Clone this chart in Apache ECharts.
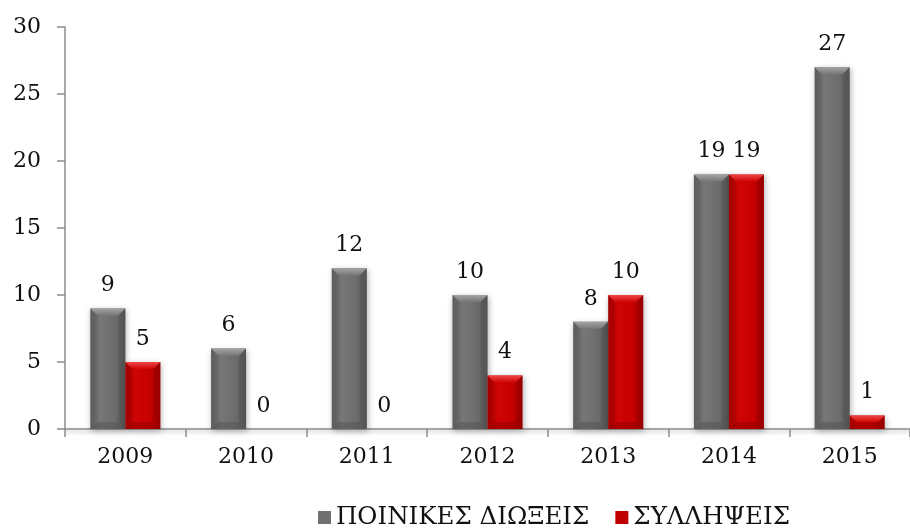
<!DOCTYPE html>
<html><head><meta charset="utf-8">
<script src="https://cdn.jsdelivr.net/npm/echarts@6/dist/echarts.min.js"></script>
<style>html,body{margin:0;padding:0;background:#fff}#c{width:910px;height:532px}</style>
</head><body><div id="c"></div>
<script>
const years = ['2009','2010','2011','2012','2013','2014','2015'];
const prosecutions = [9, 6, 12, 10, 8, 19, 27];
const arrests = [5, 0, 0, 4, 10, 19, 1];
const yTicks = [0, 5, 10, 15, 20, 25, 30];

const FONT = '"DejaVu Serif", "Liberation Serif", serif';
const NUM_FONT = '22px ' + FONT;

// Palette for the two bevelled bar styles
const palettes = {
  grey: {face: ['#626262', '#777777', '#6c6c6c', '#575757'], top: '#a4a4a4', side: '#4a4a4a', bottom: '#505050', legend: '#707070'},
  red:  {face: ['#a80000', '#d00404', '#c60000', '#a00000'], top: '#ee4848', side: '#800000', bottom: '#8a0000', legend: '#c00000'}
};

// Draws one bevelled bar; side = -1 for the left bar of a group, 0 for the right one
function bevelRender(pal, side) {
  return function (params, api) {
    const idx = api.value(0);
    const val = api.value(1);
    const base = api.coord([idx, 0]);
    const top = api.coord([idx, val]);
    const band = api.size([1, 0])[0];
    const w = band * 0.29;
    const x0 = base[0] + side * w;
    const y0 = top[1];
    const y1 = base[1];
    const h = y1 - y0;
    const b = Math.min(7, h / 2, w / 2);
    const children = [];
    const faceGrad = new echarts.graphic.LinearGradient(0, 0, 1, 0, [
      {offset: 0, color: pal.face[0]},
      {offset: 0.3, color: pal.face[1]},
      {offset: 0.7, color: pal.face[2]},
      {offset: 1, color: pal.face[3]}
    ]);
    children.push({
      type: 'rect',
      shape: {x: x0, y: y0, width: w, height: Math.max(h, 0)},
      style: {fill: h > 0 ? faceGrad : 'none', shadowColor: 'rgba(0,0,0,0.3)', shadowBlur: h > 0 ? 6 : 0, shadowOffsetY: 2, shadowOffsetX: 1},
      textContent: {style: {text: String(val), font: NUM_FONT, fill: '#111'}},
      textConfig: {position: 'top', distance: 12}
    });
    if (h > 0) {
      children.push({type: 'polygon', shape: {points: [[x0, y0], [x0 + w, y0], [x0 + w - b, y0 + b], [x0 + b, y0 + b]]},
        style: {fill: new echarts.graphic.LinearGradient(0, 0, 0, 1, [{offset: 0, color: pal.top}, {offset: 1, color: pal.face[1]}])}});
      children.push({type: 'polygon', shape: {points: [[x0, y0], [x0 + b, y0 + b], [x0 + b, y1 - b], [x0, y1]]},
        style: {fill: pal.side, opacity: 0.18}});
      children.push({type: 'polygon', shape: {points: [[x0 + w, y0], [x0 + w - b, y0 + b], [x0 + w - b, y1 - b], [x0 + w, y1]]},
        style: {fill: pal.side, opacity: 0.3}});
      children.push({type: 'polygon', shape: {points: [[x0, y1], [x0 + b, y1 - b], [x0 + w - b, y1 - b], [x0 + w, y1]]},
        style: {fill: pal.bottom, opacity: 0.45}});
    }
    return {type: 'group', children: children};
  };
}

const chart = echarts.init(document.getElementById('c'));
chart.setOption({
  animation: false,
  grid: {left: 65, right: -8, top: 27, bottom: 103},
  legend: {
    bottom: -3, left: 313,
    itemWidth: 13, itemHeight: 13, itemGap: 26,
    textStyle: {fontFamily: FONT, fontSize: 24.5, color: '#111'},
    data: [
      {name: 'ΠΟΙΝΙΚΕΣ ΔΙΩΞΕΙΣ', icon: 'rect'},
      {name: 'ΣΥΛΛΗΨΕΙΣ', icon: 'rect'}
    ]
  },
  xAxis: {
    type: 'category', data: years,
    axisLine: {lineStyle: {color: '#8c8c8c', width: 1.5, shadowColor: 'rgba(0,0,0,0.3)', shadowBlur: 4, shadowOffsetY: 2}},
    axisTick: {show: true, length: 8, lineStyle: {color: '#8c8c8c', width: 1.5}},
    axisLabel: {fontFamily: FONT, fontSize: 22, color: '#111', margin: 17}
  },
  yAxis: {
    type: 'value', min: 0, max: 30, interval: 5,
    axisLine: {show: true, lineStyle: {color: '#8c8c8c', width: 1.5}},
    axisTick: {show: true, length: 8, lineStyle: {color: '#8c8c8c', width: 1.5}},
    splitLine: {show: false},
    axisLabel: {fontFamily: FONT, fontSize: 22, color: '#111', margin: 24,
      formatter: v => yTicks.includes(v) ? String(v) : ''}
  },
  series: [
    {
      name: 'ΠΟΙΝΙΚΕΣ ΔΙΩΞΕΙΣ', type: 'custom',
      data: prosecutions.map((v, i) => [i, v]),
      encode: {x: 0, y: 1},
      itemStyle: {color: palettes.grey.legend},
      renderItem: bevelRender(palettes.grey, -1)
    },
    {
      name: 'ΣΥΛΛΗΨΕΙΣ', type: 'custom',
      data: arrests.map((v, i) => [i, v]),
      encode: {x: 0, y: 1},
      itemStyle: {color: palettes.red.legend},
      renderItem: bevelRender(palettes.red, 0)
    }
  ]
});
</script></body></html>
